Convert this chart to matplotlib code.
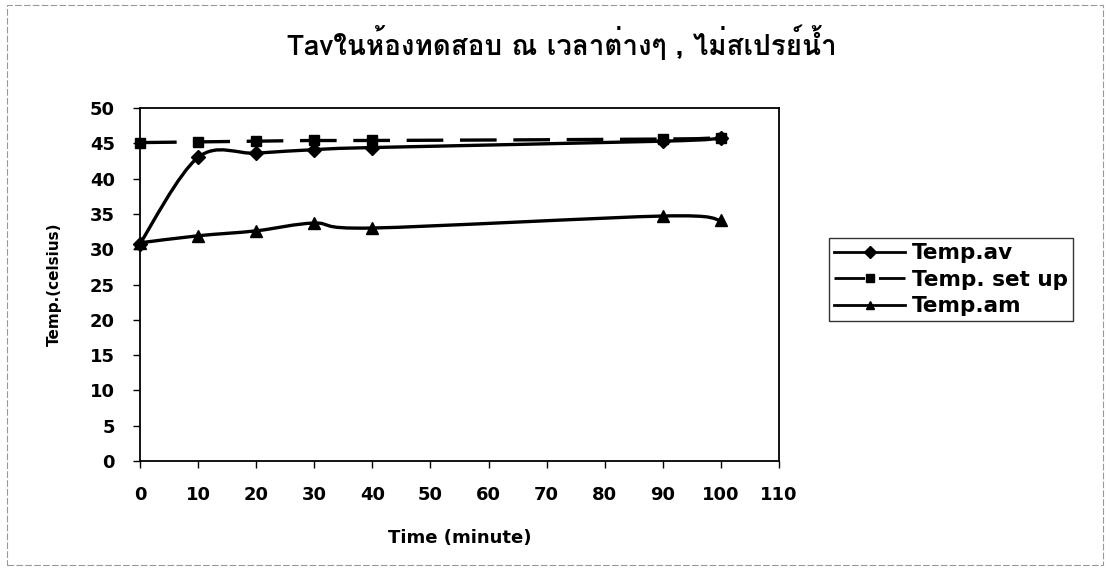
import matplotlib
matplotlib.use("Agg")
import matplotlib.pyplot as plt
from matplotlib.path import Path
from matplotlib.patches import PathPatch, Rectangle
from matplotlib.lines import Line2D
from matplotlib import font_manager
import numpy as np

# ---------------- data ----------------
time_min = [0, 10, 20, 30, 40, 90, 100]
temp_av = [30.8, 43.0, 43.6, 44.1, 44.4, 45.3, 45.7]
temp_setup = [45.1, 45.2, 45.3, 45.4, 45.4, 45.6, 45.8]
temp_am = [30.9, 31.9, 32.6, 33.7, 33.0, 34.7, 34.1]
series_names = ["Temp.av", "Temp. set up", "Temp.am"]
x_ticks = list(range(0, 111, 10))
y_ticks = list(range(0, 51, 5))
title = "Tavในห้องทดสอบ ณ เวลาต่างๆ , ไม่สเปรย์น้ำ"

# ---------------- fonts ----------------
def thai_families():
    fams = []
    try:
        from fontTools.ttLib import TTFont
        for f in font_manager.fontManager.ttflist:
            try:
                tt = TTFont(f.fname, fontNumber=0, lazy=True)
                cmap = tt.getBestCmap()
                if cmap and 0x0E43 in cmap and 0x0E2B in cmap:
                    if f.name not in fams:
                        fams.append(f.name)
            except Exception:
                pass
    except Exception:
        pass
    return fams

thai = thai_families()
base = "DejaVu Sans"
plt.rcParams['font.family'] = [base]

W, H = 1110, 573
fig = plt.figure(figsize=(W / 100, H / 100), dpi=100)

# outer chart border
fig.patches.append(Rectangle((7 / W, 8 / H), 1096 / W, 560 / H, transform=fig.transFigure,
                             fill=False, edgecolor='#999999', lw=0.8, linestyle=(0, (6, 2))))

ax = fig.add_axes([140 / W, 1 - 461 / H, 639 / W, 353 / H])
ax.set_xlim(0, 110)
ax.set_ylim(0, 50)
for s in ax.spines.values():
    s.set_linewidth(1.3)
    s.set_color('black')

ax.set_xticks(x_ticks)
ax.set_yticks(y_ticks)
ax.set_xticklabels([str(v) for v in x_ticks], fontweight='bold')
ax.set_yticklabels([str(v) for v in y_ticks], fontweight='bold')
ax.tick_params(direction='out', length=5, width=1, labelsize=13)
ax.tick_params(axis='x', pad=13)
ax.tick_params(axis='y', pad=13)

def smooth_path(xs, ys):
    xs = np.asarray(xs, float)
    ys = np.asarray(ys, float)
    n = len(xs)
    verts = [(xs[0], ys[0])]
    codes = [Path.MOVETO]
    t = 1.0 / 6.0
    for i in range(n - 1):
        p0 = (xs[max(i - 1, 0)], ys[max(i - 1, 0)])
        p1 = (xs[i], ys[i])
        p2 = (xs[i + 1], ys[i + 1])
        p3 = (xs[min(i + 2, n - 1)], ys[min(i + 2, n - 1)])
        c1 = (p1[0] + (p2[0] - p0[0]) * t, p1[1] + (p2[1] - p0[1]) * t)
        c2 = (p2[0] - (p3[0] - p1[0]) * t, p2[1] - (p3[1] - p1[1]) * t)
        verts += [c1, c2, p2]
        codes += [Path.CURVE4] * 3
    return Path(verts, codes)

styles = [
    (temp_av, 'D', '-', 7),
    (temp_setup, 's', (0, (11, 5)), 7),
    (temp_am, '^', '-', 8),
]
handles = []
for (ys, mk, ls, ms), name in zip(styles, series_names):
    patch = PathPatch(smooth_path(time_min, ys), fill=False, edgecolor='black', lw=2.4,
                      linestyle=ls, clip_on=False, zorder=3)
    ax.add_patch(patch)
    ax.plot(time_min, ys, linestyle='none', marker=mk, markersize=ms, color='black',
            clip_on=False, zorder=4)
    handles.append(Line2D([], [], color='black', lw=2.0, linestyle=ls, marker=mk,
                          markersize=6))

ax.set_xlabel("Time (minute)", fontsize=13, fontweight='bold', labelpad=18)
ax.set_ylabel("Temp.(celsius)", fontsize=11, fontweight='bold', labelpad=20)

title_fams = thai + [base]
fig.text(562 / W, 1 - 42 / H, title, ha='center', va='center', fontsize=20,
         fontweight='bold', family=title_fams)

leg = fig.legend(handles, series_names, loc='upper left',
                 bbox_to_anchor=(818 / W, 1 - 227 / H), frameon=True, fancybox=False,
                 edgecolor='black', handlelength=3.3, handletextpad=0.3,
                 borderpad=0.25, labelspacing=0.3,
                 prop={'size': 15.5, 'weight': 'bold'})
leg.get_frame().set_linewidth(1.0)

fig.savefig("out.png", dpi=100)
